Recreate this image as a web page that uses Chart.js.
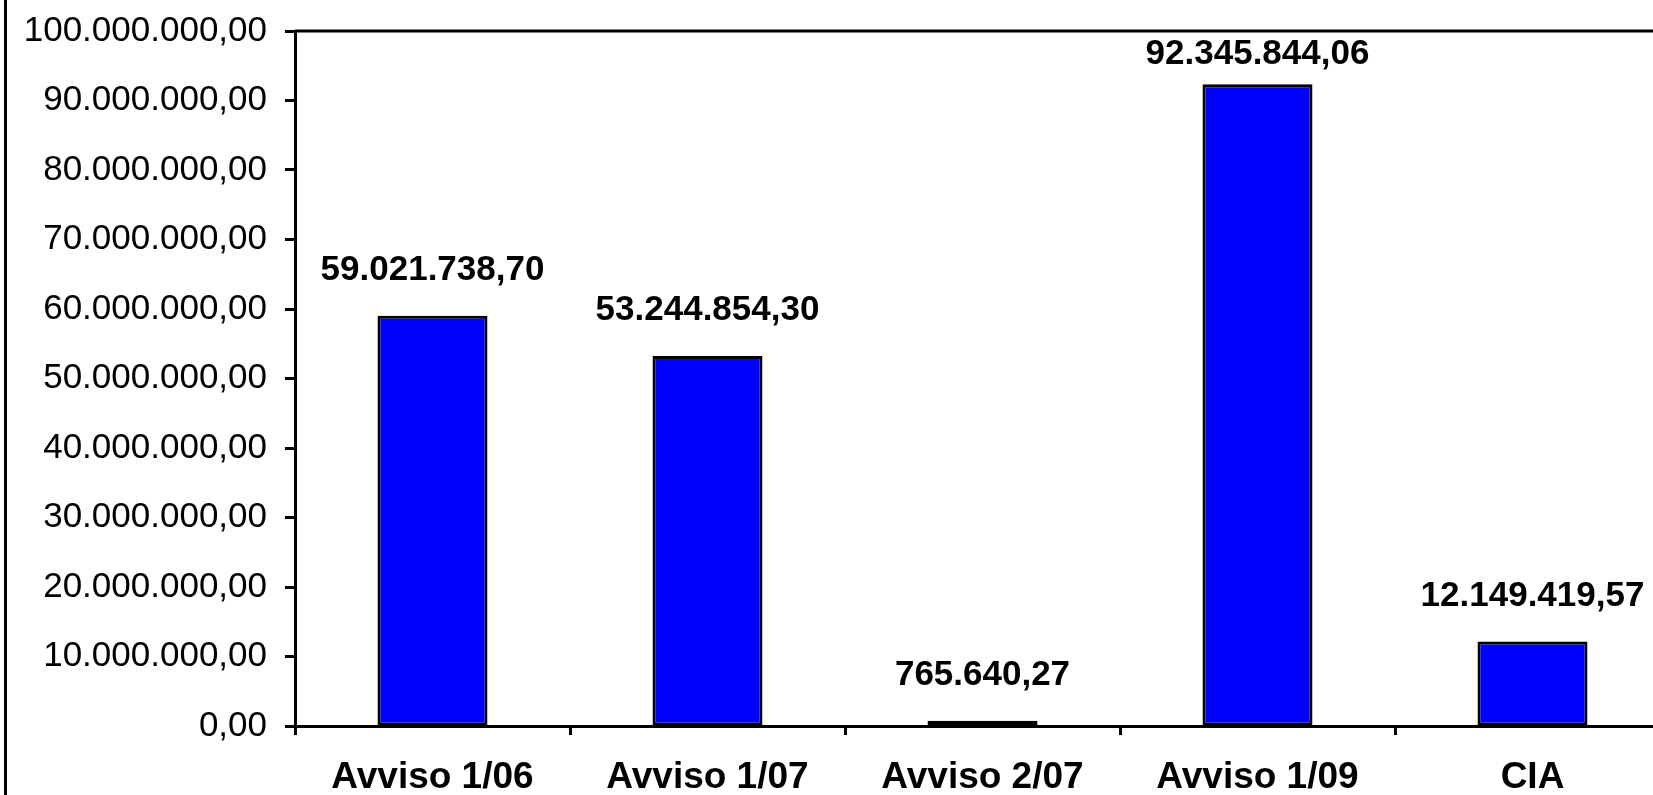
<!DOCTYPE html>
<html>
<head>
<meta charset="utf-8">
<script src="https://cdn.jsdelivr.net/npm/chart.js@4"></script>
<style>
  html, body { margin: 0; padding: 0; background: #fff; overflow: hidden; }
  #frame { position: absolute; left: 0; top: 0; width: 1653px; height: 795px; overflow: hidden; }
  #wrap { position: absolute; left: 0; top: 0; width: 1670px; height: 795px; }
  #edge { position: absolute; left: 4px; top: 0; width: 3px; height: 795px; background: #000; }
</style>
</head>
<body>
<div id="frame">
  <div id="wrap"><canvas id="fundsChart"></canvas></div>
  <div id="edge"></div>
</div>
<script>
// Categories and values
const categories = ['Avviso 1/06', 'Avviso 1/07', 'Avviso 2/07', 'Avviso 1/09', 'CIA'];
const amounts = [59021738.70, 53244854.30, 765640.27, 92345844.06, 12149419.57];
const yTicks = [0, 10000000, 20000000, 30000000, 40000000, 50000000, 60000000, 70000000, 80000000, 90000000, 100000000];

const FONT = '"Liberation Sans", Arial, sans-serif';

// 1234567.8 -> "1.234.567,80"
function formatIt(v) {
    const parts = v.toFixed(2).split('.');
    const intPart = parts[0].replace(/\B(?=(\d{3})+(?!\d))/g, '.');
    return intPart + ',' + parts[1];
}

// value labels above bars
const valueLabels = {
    id: 'valueLabels',
    afterDatasetsDraw(chart) {
        const ctx = chart.ctx;
        const meta = chart.getDatasetMeta(0);
        const area = chart.chartArea;
        ctx.save();
        ctx.font = 'bold 35px ' + FONT;
        ctx.fillStyle = '#000';
        ctx.textAlign = 'center';
        ctx.textBaseline = 'alphabetic';
        meta.data.forEach((bar, i) => {
            let y = bar.y - 36;
            if (y < area.top + 33) y = area.top + 33;
            ctx.fillText(formatIt(amounts[i]), bar.x, y);
        });
        ctx.restore();
    }
};

// top edge of the plot area
const topLine = {
    id: 'topLine',
    afterDraw(chart) {
        const ctx = chart.ctx;
        const a = chart.chartArea;
        ctx.save();
        ctx.strokeStyle = '#000';
        ctx.lineWidth = 3;
        ctx.beginPath();
        ctx.moveTo(a.left, a.top);
        ctx.lineTo(chart.width, a.top);
        ctx.stroke();
        ctx.restore();
    }
};

let fundsChart = new Chart(document.getElementById('fundsChart'), {
    type: 'bar',
    data: {
        labels: categories,
        datasets: [{
            data: amounts,
            backgroundColor: '#0000FF',
            borderColor: '#000',
            borderWidth: 3,
            borderSkipped: false,
            barPercentage: 0.4,
            categoryPercentage: 1.0
        }]
    },
    options: {
        responsive: true,
        maintainAspectRatio: false,
        animation: false,
        layout: {
            padding: { left: 7, top: 31, right: 0, bottom: 0 }
        },
        plugins: {
            legend: { display: false },
            tooltip: { enabled: false },
            title: { display: false }
        },
        scales: {
            x: {
                afterFit(scale) {
                    scale.height = 69;
                    scale.paddingLeft = 0;
                    scale.paddingRight = 0;
                },
                border: { display: true, color: '#000', width: 3 },
                grid: {
                    drawOnChartArea: false,
                    drawTicks: true,
                    tickLength: 9,
                    tickWidth: 3,
                    tickColor: '#000',
                    offset: true
                },
                ticks: {
                    color: '#000',
                    padding: 24,
                    maxRotation: 0,
                    font: { family: FONT, size: 37, weight: 'bold', lineHeight: 1 }
                }
            },
            y: {
                min: 0,
                max: 100000000,
                afterFit(scale) {
                    scale.width = 288;
                    scale.paddingTop = 0;
                    scale.paddingBottom = 0;
                },
                afterBuildTicks(scale) {
                    scale.ticks = yTicks.map(v => ({ value: v }));
                },
                border: { display: true, color: '#000', width: 3 },
                grid: {
                    drawOnChartArea: false,
                    drawTicks: true,
                    tickLength: 10,
                    tickWidth: 3,
                    tickColor: '#000'
                },
                ticks: {
                    color: '#000',
                    padding: 18,
                    font: { family: FONT, size: 35 },
                    callback: function(value) { return formatIt(value); }
                }
            }
        }
    },
    plugins: [valueLabels, topLine]
});
</script>
</body>
</html>
